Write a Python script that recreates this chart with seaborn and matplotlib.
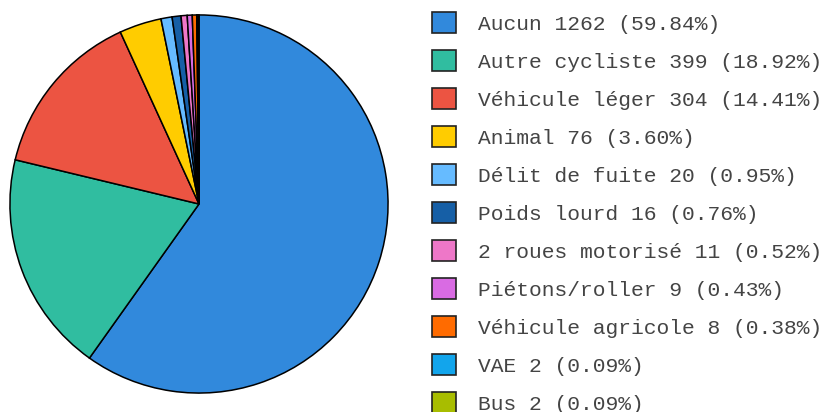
import matplotlib
matplotlib.use("Agg")
import matplotlib.pyplot as plt
import seaborn as sns
from matplotlib.patches import Patch

categories = ["Aucun", "Autre cycliste", "Véhicule léger", "Animal", "Délit de fuite",
              "Poids lourd", "2 roues motorisé", "Piétons/roller", "Véhicule agricole",
              "VAE", "Bus"]
counts = [1262, 399, 304, 76, 20, 16, 11, 9, 8, 2, 2]
percents = ["59.84%", "18.92%", "14.41%", "3.60%", "0.95%", "0.76%", "0.52%",
            "0.43%", "0.38%", "0.09%", "0.09%"]
colors = ["#3189DC", "#30BDA0", "#EC5442", "#FFCC00", "#66BBFF", "#165FA6",
          "#EE77C8", "#D96BE3", "#FF6B00", "#12A5EC", "#A8BD00"]

sns.set_theme(style="white")
plt.rcParams['font.family'] = ['Liberation Mono', 'DejaVu Sans Mono']

W, H = 826, 412
fig = plt.figure(figsize=(W / 100, H / 100), dpi=100)
cx, cy, r = 199, 204, 190
ax = fig.add_axes([(cx - r) / W, (H - cy - r) / H, 2 * r / W, 2 * r / H])
wedges, _ = ax.pie(counts, colors=colors, startangle=90, counterclock=False,
                   radius=1.0, wedgeprops=dict(edgecolor="black", linewidth=1.1))
ax.set_xlim(-1.005, 1.005)
ax.set_ylim(-1.005, 1.005)
ax.set_aspect("equal")
ax.axis("off")

labels = [f"{c} {n} ({p})" for c, n, p in zip(categories, counts, percents)]
handles = [Patch(facecolor=col, edgecolor="#222222", linewidth=1.2) for col in colors]
fs = 15.3
leg = fig.legend(handles, labels, loc="upper left",
                 bbox_to_anchor=(432 / W, 1 - 12.5 / H), frameon=False,
                 fontsize=fs, handlelength=1.13, handleheight=1.13,
                 handletextpad=1.03, labelspacing=0.77, borderpad=0, borderaxespad=0)
for t in leg.get_texts():
    t.set_color("#444444")

fig.savefig("out.png", dpi=100)
